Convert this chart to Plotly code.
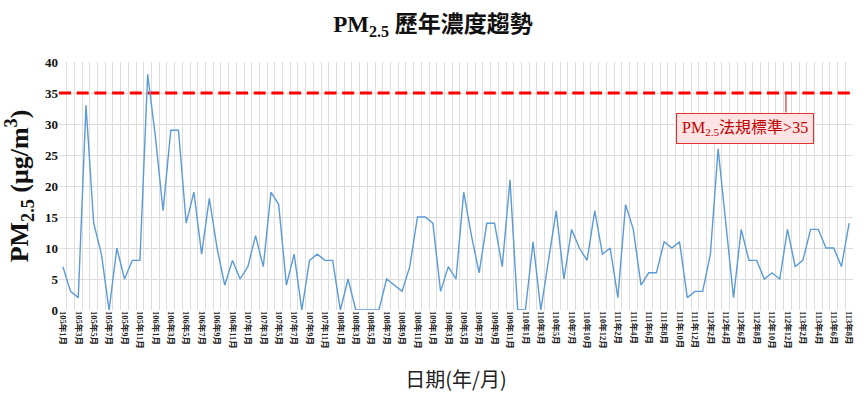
import plotly.graph_objects as go

# months from 105年1月 to 113年8月 (one month missing in 110)
months = []
for y in range(105, 114):
    for m in range(1, 13):
        if y == 113 and m > 8:
            break
        if y == 110 and m == 8:
            continue
        months.append(f"{y}年{m}月")

pm25 = [7, 3, 2, 33, 14, 9, 0, 10, 5, 8, 8, 38, 28, 16, 29, 29, 14, 19, 9, 18,
        10, 4, 8, 5, 7, 12, 7, 19, 17, 4, 9, 0, 8, 9, 8, 8, 0, 5, 0, 0,
        0, 0, 5, 4, 3, 7, 15, 15, 14, 3, 7, 5, 19, 12, 6, 14, 14, 7, 21, 0,
        0, 11, 0, 8, 16, 5, 13, 10, 8, 16, 9, 10, 2, 17, 13, 4, 6, 6, 11, 10,
        11, 2, 3, 3, 9, 26, 14, 2, 13, 8, 8, 5, 6, 5, 13, 7, 8, 13, 13, 10,
        10, 7, 14]

standard = 35
y_ticks = [0, 5, 10, 15, 20, 25, 30, 35, 40]

idx = list(range(len(months)))
n = len(months)

fig = go.Figure()
fig.add_trace(go.Scatter(x=[-0.5, n - 0.5], y=[standard, standard], mode="lines",
                         line=dict(color="#FF0000", width=3.2, dash="12px,5.7px"),
                         hoverinfo="skip", showlegend=False))
fig.add_trace(go.Scatter(x=idx, y=pm25, mode="lines",
                         line=dict(color="#5B9BD5", width=1.4),
                         showlegend=False))

# callout pointer
fig.add_annotation(x=93.8, y=standard, xref="x", yref="y", text="",
                   showarrow=True, arrowhead=0, arrowwidth=1.2, arrowcolor="#E03030",
                   ax=0, ay=21)
# callout box
fig.add_annotation(x=88.5, y=29.2, xref="x", yref="y",
                   text="PM<sub>2.5</sub>法規標準>35", showarrow=False,
                   font=dict(family="Liberation Serif, Noto Sans CJK TC", size=16, color="#C00000"),
                   bgcolor="#FDE3E3", bordercolor="#E03030", borderwidth=1, borderpad=5)

fig.update_layout(
    width=866, height=405,
    margin=dict(l=59, r=13, t=62, b=95),
    paper_bgcolor="white", plot_bgcolor="white",
    title=dict(text="<b>PM<sub>2.5</sub> 歷年濃度趨勢</b>", x=0.5, xanchor="center",
               y=0.94, yanchor="middle",
               font=dict(family="Liberation Serif, Noto Sans CJK TC", size=23, color="#111")),
    xaxis=dict(range=[-0.5, n - 0.5], tickmode="array",
               tickvals=idx[::2], ticktext=[f"<b>{m}</b>" for m in months[::2]],
               tickangle=90, tickfont=dict(family="Liberation Serif, Noto Sans CJK TC", size=8.5, color="#222"),
               showgrid=False, zeroline=False, showline=False, ticks="",
               minor=dict(tick0=-0.5, dtick=1, showgrid=True, gridcolor="#DDDDDD", gridwidth=1),
               title=dict(text="日期(年/月)", standoff=25,
                          font=dict(family="Noto Sans CJK TC", size=20, color="#222"))),
    yaxis=dict(range=[0, 40], tickvals=y_ticks,
               tickfont=dict(family="Liberation Serif", size=13, color="#111", weight="bold"),
               showgrid=True, gridcolor="#DDDDDD", gridwidth=1, zeroline=False,
               showline=False, ticks="",
               title=dict(text="<b>PM<sub>2.5</sub> (μg/m<sup>3</sup>)</b>", standoff=8,
                          font=dict(family="Liberation Serif", size=26, color="#111"))),
)

fig.write_html("out.html")
